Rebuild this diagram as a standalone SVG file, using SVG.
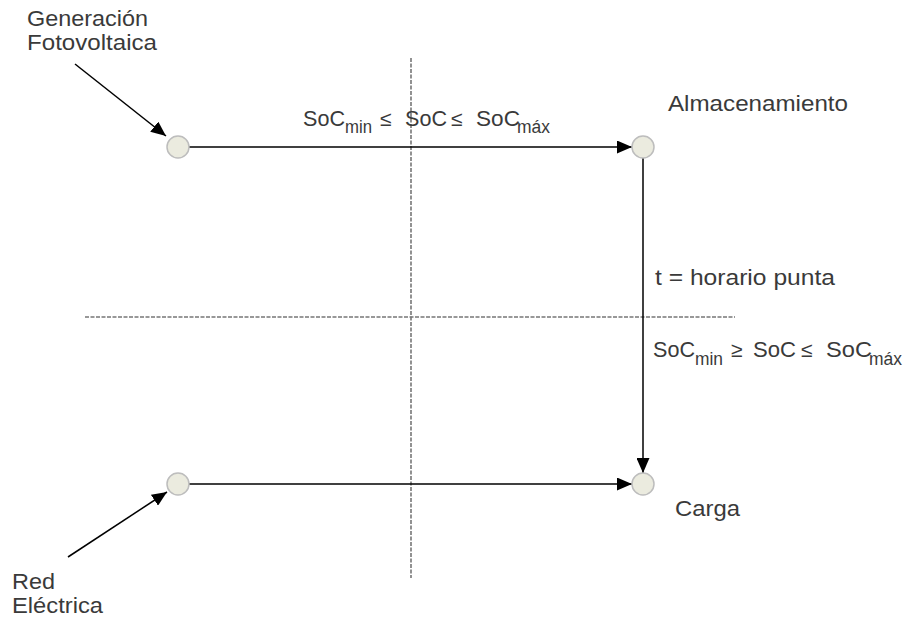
<svg xmlns="http://www.w3.org/2000/svg" width="905" height="620" viewBox="0 0 905 620">
  <style>
    .lbl { font-family: "Liberation Sans", Arial, sans-serif; font-size: 22.5px; fill: #3a3a3a; }
    .sub { font-size: 18px; }
    .rel { font-size: 21px; }
    .node { fill: #ebebdf; stroke: #bdbdbd; stroke-width: 1.5; }
    .edge { stroke: #000; stroke-width: 1.5; fill: none; marker-end: url(#arrow); }
    .guide { stroke: #777; stroke-width: 1.6; stroke-dasharray: 4 1.5; fill: none; }
  </style>
  <defs>
    <marker id="arrow" viewBox="0 0 15 13" refX="15" refY="6.5" markerWidth="15" markerHeight="13" markerUnits="userSpaceOnUse" orient="auto">
      <path d="M0,0 L15,6.5 L0,13 Z" fill="#000"/>
    </marker>
  </defs>
  <rect width="905" height="620" fill="#fff"/>

  <!-- dashed guide lines -->
  <g id="guides">
    <line class="guide" x1="411" y1="58" x2="411" y2="578"/>
    <line class="guide" x1="85" y1="317" x2="735" y2="317"/>
  </g>

  <!-- connectors -->
  <g id="connectors">
    <line class="edge" x1="75" y1="64" x2="166" y2="136"/>
    <line class="edge" x1="68" y1="557" x2="167" y2="492"/>
    <line class="edge" x1="189" y1="147" x2="632" y2="147"/>
    <line class="edge" x1="643" y1="158" x2="643" y2="473"/>
    <line class="edge" x1="189" y1="484" x2="632" y2="484"/>
  </g>

  <!-- nodes -->
  <g id="node-fv">
    <circle class="node" cx="178" cy="147" r="11"/>
  </g>
  <g id="node-almacenamiento">
    <circle class="node" cx="643" cy="147" r="11"/>
  </g>
  <g id="node-red">
    <circle class="node" cx="178" cy="484" r="11"/>
  </g>
  <g id="node-carga">
    <circle class="node" cx="643" cy="484" r="11"/>
  </g>

  <!-- labels -->
  <g id="label-fv">
    <text class="lbl" x="27" y="26" textLength="121" lengthAdjust="spacingAndGlyphs">Generación</text>
    <text class="lbl" x="27" y="50" textLength="130" lengthAdjust="spacingAndGlyphs">Fotovoltaica</text>
  </g>
  <g id="label-almacenamiento">
    <text class="lbl" x="668" y="111" textLength="180" lengthAdjust="spacingAndGlyphs">Almacenamiento</text>
  </g>
  <g id="label-red">
    <text class="lbl" x="12" y="589" textLength="43" lengthAdjust="spacingAndGlyphs">Red</text>
    <text class="lbl" x="12" y="613" textLength="91" lengthAdjust="spacingAndGlyphs">Eléctrica</text>
  </g>
  <g id="label-carga">
    <text class="lbl" x="675" y="516" textLength="65" lengthAdjust="spacingAndGlyphs">Carga</text>
  </g>
  <g id="label-horario">
    <text class="lbl" x="655" y="285" textLength="180" lengthAdjust="spacingAndGlyphs">t = horario punta</text>
  </g>
  <g id="label-soc-top">
    <text class="lbl" x="303" y="126" textLength="42" lengthAdjust="spacingAndGlyphs">SoC</text>
    <text class="lbl sub" x="345" y="133" textLength="27" lengthAdjust="spacingAndGlyphs">min</text>
    <text class="lbl rel" x="380" y="126">≤</text>
    <text class="lbl" x="405" y="126" textLength="42" lengthAdjust="spacingAndGlyphs">SoC</text>
    <text class="lbl rel" x="451" y="126">≤</text>
    <text class="lbl" x="476" y="126" textLength="44" lengthAdjust="spacingAndGlyphs">SoC</text>
    <text class="lbl sub" x="517" y="133" textLength="33" lengthAdjust="spacingAndGlyphs">máx</text>
  </g>
  <g id="label-soc-right">
    <text class="lbl" x="653" y="357" textLength="42" lengthAdjust="spacingAndGlyphs">SoC</text>
    <text class="lbl sub" x="695" y="365" textLength="28" lengthAdjust="spacingAndGlyphs">min</text>
    <text class="lbl rel" x="731" y="357">≥</text>
    <text class="lbl" x="753" y="357" textLength="43" lengthAdjust="spacingAndGlyphs">SoC</text>
    <text class="lbl rel" x="801" y="357">≤</text>
    <text class="lbl" x="826" y="357" textLength="46" lengthAdjust="spacingAndGlyphs">SoC</text>
    <text class="lbl sub" x="869" y="365" textLength="33" lengthAdjust="spacingAndGlyphs">máx</text>
  </g>
</svg>
